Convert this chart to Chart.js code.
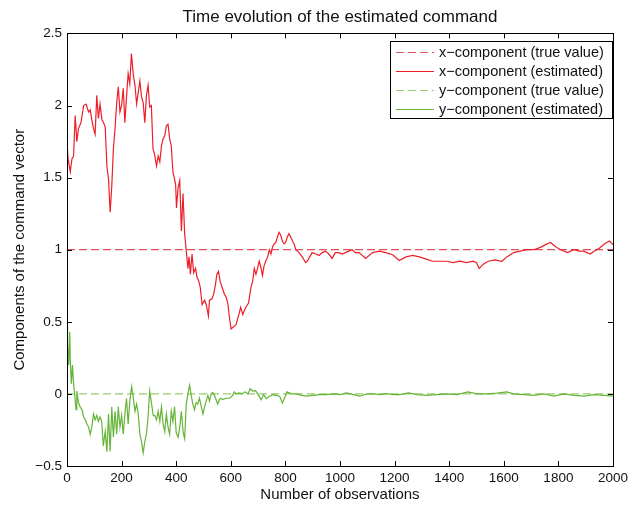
<!DOCTYPE html>
<html>
<head>
<meta charset="utf-8">
<script src="https://cdn.jsdelivr.net/npm/chart.js@4.4.0/dist/chart.umd.min.js"></script>
<style>
html, body { margin: 0; padding: 0; background: #fff; }
#wrap { width: 632px; height: 506px; }
</style>
</head>
<body>
<div id="wrap"><canvas id="commandChart" width="632" height="506"></canvas></div>
<script>
// values
var xTicks = [0, 200, 400, 600, 800, 1000, 1200, 1400, 1600, 1800, 2000];
var yTicks = [-0.5, 0, 0.5, 1, 1.5, 2, 2.5];
var trueX = 1;
var trueY = 0;

var xEstObs = [0,4,12,18,24,30,36,42,51,61,70,79,85,91,97,103,109,115,121,128,134,140,146,152,158,164,170,176,182,188,194,200,206,212,218,224,230,236,243,249,255,261,267,273,279,285,291,297,303,309,315,321,328,334,340,346,352,358,364,370,376,382,388,394,398,401,407,413,419,425,431,437,443,447,452,458,464,471,476,483,488,495,504,510,518,522,531,537,544,549,555,561,568,577,583,589,595,601,607,613,619,625,631,636,644,650,658,665,674,680,686,692,698,704,710,716,722,728,735,741,747,753,759,765,771,777,783,789,795,801,807,813,819,826,832,838,844,850,862,874,880,886,898,911,923,935,947,959,971,983,996,1008,1020,1032,1045,1056,1070,1094,1119,1143,1168,1193,1217,1242,1266,1291,1316,1340,1365,1390,1414,1439,1463,1488,1500,1510,1525,1543,1568,1593,1611,1636,1660,1685,1710,1734,1753,1771,1790,1808,1833,1857,1876,1894,1916,1931,1950,1968,1987,2000];
var xEstVal = [1.75,1.63,1.54,1.63,1.65,1.93,1.75,1.84,1.88,2.0,2.01,1.955,1.97,1.90,1.84,1.80,2.07,1.91,2.01,1.90,1.88,1.85,1.58,1.49,1.26,1.44,1.70,1.84,2.02,2.13,1.955,2.0,2.12,1.88,2.06,2.22,2.15,2.36,2.21,2.14,2.01,2.09,2.17,2.06,2.02,1.88,2.07,2.14,1.99,2.0,1.70,1.66,1.58,1.65,1.61,1.72,1.77,1.79,1.86,1.87,1.77,1.72,1.54,1.49,1.45,1.29,1.43,1.48,1.13,1.39,1.11,0.99,0.87,0.95,0.83,0.97,0.84,0.87,0.81,0.78,0.74,0.62,0.65,0.62,0.54,0.65,0.66,0.69,0.76,0.83,0.85,0.78,0.74,0.69,0.67,0.63,0.53,0.45,0.46,0.47,0.48,0.52,0.56,0.60,0.55,0.58,0.61,0.63,0.74,0.78,0.87,0.83,0.87,0.92,0.88,0.82,0.89,0.92,0.95,1.0,0.97,1.02,1.04,1.05,1.09,1.12,1.10,1.06,1.04,1.05,1.09,1.11,1.09,1.06,1.04,1.0,0.99,0.98,0.95,0.91,0.92,0.94,0.98,0.97,0.96,0.98,0.99,0.97,0.94,0.98,0.98,0.97,0.98,0.99,1.0,0.98,0.98,0.94,0.98,0.99,0.98,0.965,0.925,0.95,0.96,0.95,0.935,0.92,0.92,0.92,0.91,0.92,0.91,0.92,0.91,0.87,0.90,0.92,0.93,0.92,0.95,0.98,0.99,1.0,1.0,1.016,1.035,1.05,1.02,1.0,0.98,1.0,0.99,0.99,0.97,0.99,1.01,1.04,1.06,1.035];

var yEstObs = [0,2,6,10,12,16,20,24,28,33,36,42,48,55,61,67,73,79,85,91,97,103,109,115,121,127,133,140,146,152,158,164,170,176,182,188,194,200,206,212,218,224,230,237,243,249,255,261,267,273,279,285,291,297,303,310,316,322,328,334,340,346,352,358,364,370,376,382,388,394,400,407,413,419,425,431,437,443,449,455,461,467,473,479,485,491,498,504,510,516,522,528,534,540,546,552,558,564,571,583,595,607,613,619,632,643,650,656,663,671,680,691,700,711,720,730,742,754,766,779,789,797,806,822,840,859,877,901,926,950,975,1000,1024,1049,1073,1098,1122,1147,1171,1196,1220,1251,1282,1318,1355,1392,1429,1468,1502,1539,1576,1610,1637,1674,1711,1747,1784,1821,1858,1895,1931,1968,2000];
var yEstVal = [0.48,0.35,0.20,0.43,0.23,0.07,0.20,0.07,0.0,-0.11,0.02,-0.06,-0.09,-0.11,-0.16,-0.18,-0.21,-0.23,-0.28,-0.23,-0.14,-0.18,-0.15,-0.19,-0.16,-0.19,-0.36,-0.26,-0.40,-0.14,-0.40,-0.09,-0.30,-0.12,-0.28,-0.09,-0.23,-0.15,-0.28,-0.14,-0.03,-0.21,-0.05,0.05,-0.03,-0.12,-0.07,-0.14,-0.28,-0.33,-0.41,-0.33,-0.28,-0.16,0.02,-0.07,-0.15,-0.15,-0.18,-0.12,-0.19,-0.09,-0.21,-0.26,-0.14,-0.23,-0.28,-0.12,-0.19,-0.09,-0.27,-0.30,-0.23,-0.12,-0.26,-0.31,-0.07,0.0,0.06,-0.01,-0.07,-0.11,-0.06,-0.07,-0.03,-0.08,-0.14,-0.09,-0.05,-0.01,-0.05,0.0,0.01,-0.01,-0.04,-0.07,-0.04,-0.03,-0.04,-0.03,-0.03,-0.01,0.014,0.0,0.007,0.0,0.014,0.01,0.0,0.037,0.02,0.023,-0.005,-0.04,-0.005,-0.033,-0.016,-0.005,-0.01,-0.016,-0.063,-0.028,0.014,0.0,0.0,-0.01,-0.016,-0.01,-0.005,-0.005,0.0,-0.005,0.007,-0.005,-0.016,0.0,0.0,-0.005,0.002,-0.005,-0.005,0.007,-0.005,-0.01,-0.005,0.0,-0.005,0.014,0.0,0.0,0.005,0.014,0.0,-0.005,-0.01,0.0,-0.016,0.0,-0.01,-0.016,-0.005,-0.01,-0.016];

var FONT = '"Liberation Sans", Arial, Helvetica, sans-serif';

function pairs(xs, ys) {
    var out = [];
    for (var i = 0; i < xs.length; i++) {
        out.push({ x: xs[i], y: ys[i] });
    }
    return out;
}

function minusSign(v) {
    return v < 0 ? '\u2212' + Math.abs(v) : String(v);
}

// MATLAB-like box with inward ticks on all four sides
var axesBox = {
    id: 'axesBox',
    afterDatasetsDraw: function (chart) {
        var ctx = chart.ctx;
        var a = chart.chartArea;
        var xs = chart.scales.x;
        var ys = chart.scales.y;
        var len = 5;
        ctx.save();
        ctx.strokeStyle = '#000';
        ctx.lineWidth = 1;
        ctx.beginPath();
        xs.ticks.forEach(function (t) {
            var px = Math.round(xs.getPixelForValue(t.value)) + 0.5;
            ctx.moveTo(px, a.bottom); ctx.lineTo(px, a.bottom - len);
            ctx.moveTo(px, a.top); ctx.lineTo(px, a.top + len);
        });
        ys.ticks.forEach(function (t) {
            var py = Math.round(ys.getPixelForValue(t.value)) + 0.5;
            ctx.moveTo(a.left, py); ctx.lineTo(a.left + len, py);
            ctx.moveTo(a.right, py); ctx.lineTo(a.right - len, py);
        });
        ctx.stroke();
        ctx.strokeRect(Math.round(a.left) + 0.5, Math.round(a.top) + 0.5,
            Math.round(a.right) - Math.round(a.left), Math.round(a.bottom) - Math.round(a.top));
        ctx.restore();
    }
};

// legend box in the upper right corner of the axes
var boxLegend = {
    id: 'boxLegend',
    afterDraw: function (chart) {
        var ctx = chart.ctx;
        var a = chart.chartArea;
        var w = 222, h = 77;
        var right = Math.round(a.right) - 1;
        var left = right - w;
        var top = Math.round(a.top) + 8;
        ctx.save();
        ctx.fillStyle = '#fff';
        ctx.fillRect(left, top, w, h);
        ctx.strokeStyle = '#000';
        ctx.lineWidth = 1;
        ctx.strokeRect(left + 0.5, top + 0.5, w, h);
        ctx.font = '14.5px ' + FONT;
        ctx.textBaseline = 'middle';
        chart.data.datasets.forEach(function (ds, i) {
            var y = top + 10.5 + i * 19;
            ctx.beginPath();
            ctx.strokeStyle = ds.borderColor;
            ctx.lineWidth = 1.2;
            ctx.setLineDash(ds.borderDash || []);
            ctx.moveTo(left + 6, Math.round(y) + 0.5);
            ctx.lineTo(left + 44, Math.round(y) + 0.5);
            ctx.stroke();
            ctx.setLineDash([]);
            ctx.fillStyle = '#111';
            ctx.fillText(ds.label, left + 49, y + 1);
        });
        ctx.restore();
    }
};

var ctx = document.getElementById('commandChart').getContext('2d');
var commandChart = new Chart(ctx, {
    type: 'line',
    data: {
        datasets: [{
            label: 'x\u2212component (true value)',
            data: [{ x: 0, y: trueX }, { x: 2000, y: trueX }],
            borderColor: 'rgb(222,80,92)',
            borderDash: [8, 4],
            borderWidth: 1.2,
            order: 4
        }, {
            label: 'x\u2212component (estimated)',
            data: pairs(xEstObs, xEstVal),
            borderColor: 'rgb(237,30,40)',
            borderWidth: 1.2,
            order: 2
        }, {
            label: 'y\u2212component (true value)',
            data: [{ x: 0, y: trueY }, { x: 2000, y: trueY }],
            borderColor: 'rgb(150,205,110)',
            borderDash: [8, 4],
            borderWidth: 1.2,
            order: 3
        }, {
            label: 'y\u2212component (estimated)',
            data: pairs(yEstObs, yEstVal),
            borderColor: 'rgb(100,180,55)',
            borderWidth: 1.2,
            order: 1
        }]
    },
    options: {
        responsive: false,
        animation: false,
        devicePixelRatio: 1,
        elements: {
            point: { radius: 0 },
            line: { tension: 0, fill: false }
        },
        layout: { padding: { left: 0, right: 18, top: 0, bottom: 0 } },
        plugins: {
            legend: { display: false },
            tooltip: { enabled: false },
            title: {
                display: true,
                fullSize: false,
                text: 'Time evolution of the estimated command',
                color: '#111',
                font: { family: FONT, size: 17, weight: 'normal' },
                padding: { top: 7, bottom: 6 }
            }
        },
        scales: {
            x: {
                type: 'linear',
                min: 0,
                max: 2000,
                afterBuildTicks: function (scale) {
                    scale.ticks = xTicks.map(function (v) { return { value: v }; });
                },
                afterFit: function (scale) { scale.height = 40; },
                grid: { display: false, drawTicks: false },
                border: { display: false },
                ticks: {
                    color: '#111',
                    padding: 4,
                    maxRotation: 0,
                    autoSkip: false,
                    font: { family: FONT, size: 13.5 },
                    callback: function (v) { return minusSign(v); }
                },
                title: {
                    display: true,
                    text: 'Number of observations',
                    color: '#111',
                    font: { family: FONT, size: 15 },
                    padding: { top: 0, bottom: 2 }
                }
            },
            y: {
                type: 'linear',
                min: -0.5,
                max: 2.5,
                afterBuildTicks: function (scale) {
                    scale.ticks = yTicks.map(function (v) { return { value: v }; });
                },
                afterFit: function (scale) { scale.width = 67; },
                grid: { display: false, drawTicks: false },
                border: { display: false },
                ticks: {
                    color: '#111',
                    padding: 5,
                    autoSkip: false,
                    font: { family: FONT, size: 13.5 },
                    callback: function (v) { return minusSign(v); }
                },
                title: {
                    display: true,
                    text: 'Components of the command vector',
                    color: '#111',
                    font: { family: FONT, size: 15 },
                    padding: { top: 11, bottom: 0 }
                }
            }
        }
    },
    plugins: [axesBox, boxLegend]
});
</script>
</body>
</html>
